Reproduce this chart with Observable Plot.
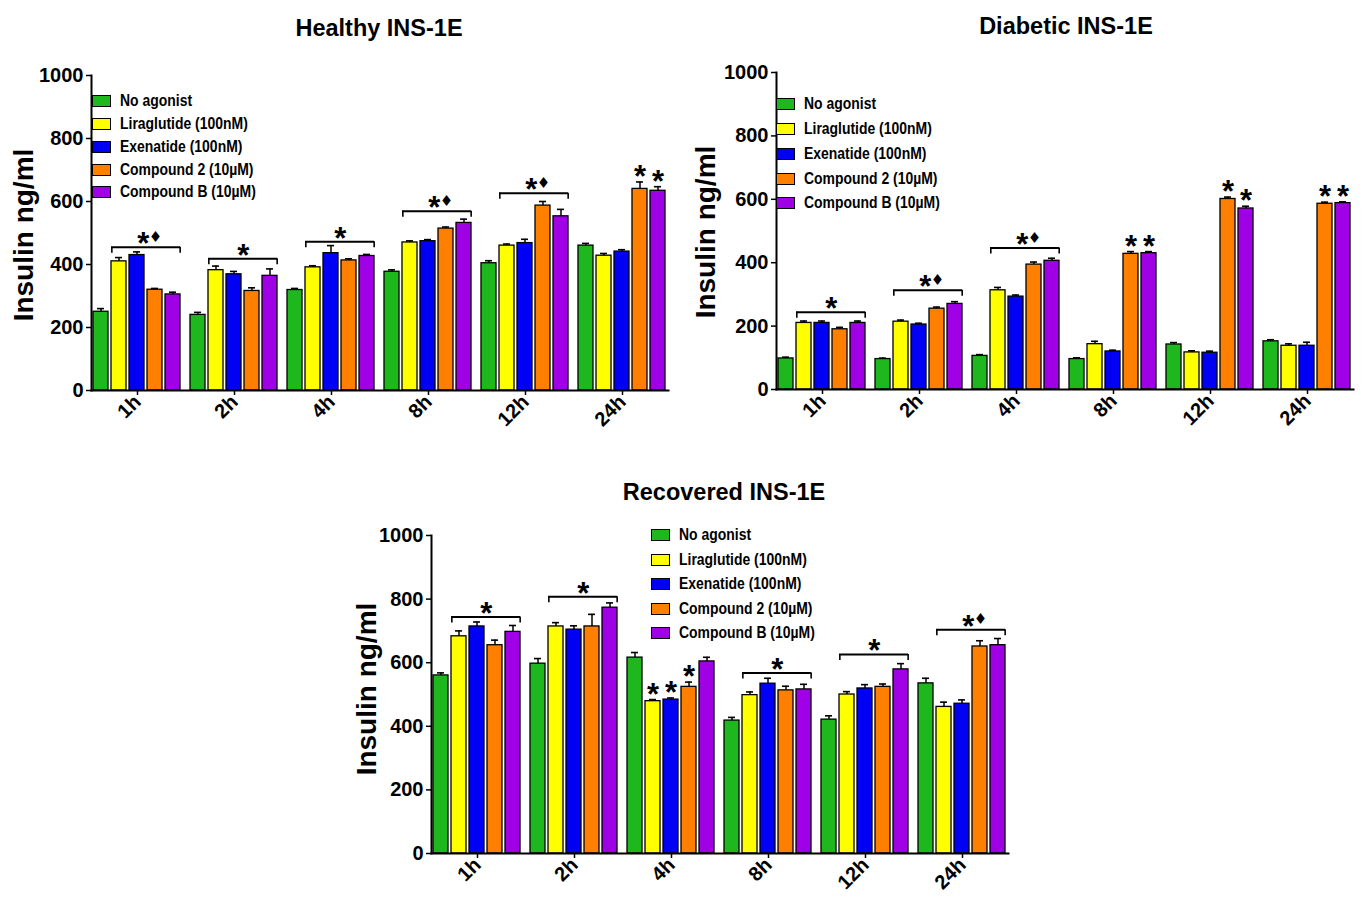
<!DOCTYPE html>
<html><head><meta charset="utf-8">
<script src="https://cdn.jsdelivr.net/npm/d3@7"></script>
<script src="https://cdn.jsdelivr.net/npm/@observablehq/plot@0.6"></script>
<style>
body{margin:0;background:#fff;}
#root{position:relative;width:1372px;height:907px;overflow:hidden;background:#fff;font-family:"Liberation Sans",Arial,sans-serif;color:#000;}
.panel{position:absolute;}
.title{position:absolute;font-weight:bold;font-size:23.5px;line-height:26px;transform:translateX(-50%);white-space:nowrap;}
.ylab{position:absolute;font-weight:bold;font-size:28px;line-height:30px;white-space:nowrap;transform:translate(-50%,-50%) rotate(-90deg);}
.legend{position:absolute;font-size:17px;font-weight:bold;}
.legend .row{display:flex;align-items:center;white-space:nowrap;}
.legend .sw{width:17px;height:10px;border:1.5px solid #000;margin-right:9px;box-sizing:content-box;flex:none;}
.legend .tx{display:inline-block;transform:scaleX(0.82);transform-origin:left center;}
</style>
</head><body><div id="root"></div>
<script>
// ---------- data ----------
const times = ["1h", "2h", "4h", "8h", "12h", "24h"];
const treatments = ["No agonist", "Liraglutide (100nM)", "Exenatide (100nM)", "Compound 2 (10µM)", "Compound B (10µM)"];
const colors = ["#1eb81e", "#ffff00", "#0000f5", "#ff8000", "#a000e6"];
const yTicks = [0, 200, 400, 600, 800, 1000];

// rows: time; columns: treatments
const healthyMeans = [[250, 410, 430, 320, 305], [240, 382, 369, 316, 364], [319, 391, 436, 413, 427], [377, 470, 474, 514, 532], [404, 460, 468, 587, 553], [460, 428, 441, 640, 634]];
const healthyErrs  = [[10, 12, 10, 4, 7], [8, 13, 9, 10, 22], [5, 5, 24, 5, 5], [6, 5, 5, 5, 12], [8, 5, 12, 13, 22], [7, 7, 6, 22, 13]];
const healthyBrackets = [{time: "1h", y: 455, diamond: true}, {time: "2h", y: 418, diamond: false}, {time: "4h", y: 472, diamond: false}, {time: "8h", y: 569, diamond: true}, {time: "12h", y: 626, diamond: true}];
const healthyStars = [{time: "24h", treatment: "Compound 2 (10µM)"}, {time: "24h", treatment: "Compound B (10µM)"}];

const diabeticMeans = [[98, 210, 210, 190, 210], [96, 214, 205, 255, 270], [106, 313, 293, 394, 406], [96, 143, 120, 428, 430], [142, 117, 116, 601, 571], [152, 138, 138, 586, 588]];
const diabeticErrs  = [[4, 6, 6, 6, 6], [3, 5, 4, 5, 7], [4, 9, 5, 8, 8], [4, 9, 4, 7, 5], [6, 5, 5, 6, 7], [5, 6, 11, 5, 4]];
const diabeticBrackets = [{time: "1h", y: 244, diamond: false}, {time: "2h", y: 313, diamond: true}, {time: "4h", y: 446, diamond: true}];
const diabeticStars = [{time: "8h", treatment: "Compound 2 (10µM)"}, {time: "8h", treatment: "Compound B (10µM)"}, {time: "12h", treatment: "Compound 2 (10µM)"}, {time: "12h", treatment: "Compound B (10µM)"}, {time: "24h", treatment: "Compound 2 (10µM)"}, {time: "24h", treatment: "Compound B (10µM)"}];

const recoveredMeans = [[560, 683, 714, 655, 697], [597, 714, 704, 714, 773], [616, 479, 484, 524, 604], [418, 498, 534, 513, 516], [421, 500, 519, 524, 579], [535, 461, 471, 651, 655]];
const recoveredErrs  = [[8, 17, 14, 16, 20], [16, 12, 12, 38, 15], [16, 5, 5, 15, 13], [10, 10, 17, 13, 16], [12, 9, 12, 9, 18], [16, 15, 12, 18, 21]];
const recoveredBrackets = [{time: "1h", y: 744, diamond: false}, {time: "2h", y: 807, diamond: false}, {time: "8h", y: 568, diamond: false}, {time: "12h", y: 626, diamond: false}, {time: "24h", y: 704, diamond: true}];
const recoveredStars = [{time: "4h", treatment: "Liraglutide (100nM)"}, {time: "4h", treatment: "Exenatide (100nM)"}, {time: "4h", treatment: "Compound 2 (10µM)"}];

const FXPI = 0.05, FXPO = 0.02, XPI = 0.15, XPO = 0.05;

const root = document.getElementById("root");

function addDiv(cls, css, text) {
  const d = document.createElement("div");
  d.className = cls;
  Object.assign(d.style, css);
  if (text != null) d.textContent = text;
  root.appendChild(d);
  return d;
}

function drawPanel(cfg) {
  const {means, errs, brackets, stars, left, top, width, height, ml, mr, mt, mb} = cfg;
  const rows = [];
  times.forEach((t, i) => treatments.forEach((tr, j) => rows.push({time: t, treatment: tr, mean: means[i][j], err: errs[i][j]})));
  const capOf = (t, tr) => { const r = rows.find(d => d.time === t && d.treatment === tr); return r.mean + r.err; };
  const starRows = stars.map(s => ({...s, y: capOf(s.time, s.treatment)}));

  const W = width - ml - mr;
  const fxStep = W / (times.length - FXPI + 2 * FXPO);
  const fxBw = fxStep * (1 - FXPI);
  const xStep = fxBw / (treatments.length - XPI + 2 * XPO);
  const xBw = xStep * (1 - XPI);

  const withD = brackets.filter(d => d.diamond);
  const noD = brackets.filter(d => !d.diamond);

  const plot = Plot.plot({
    width, height, marginLeft: ml, marginRight: mr, marginTop: mt, marginBottom: mb,
    style: {background: "transparent", fontFamily: "Liberation Sans, Arial, sans-serif", color: "#000", overflow: "visible"},
    fx: {domain: times, paddingInner: FXPI, paddingOuter: FXPO, label: null},
    x: {domain: treatments, paddingInner: XPI, paddingOuter: XPO, axis: null},
    y: {domain: [0, 1000], label: null},
    color: {domain: treatments, range: colors},
    marks: [
      Plot.barY(rows, {fx: "time", x: "treatment", y: "mean", fill: "treatment", stroke: "#000", strokeWidth: 1.3}),
      Plot.ruleX(rows, {fx: "time", x: "treatment", y1: "mean", y2: d => d.mean + d.err, stroke: "#000", strokeWidth: 1.5}),
      Plot.tickY(rows, {fx: "time", x: "treatment", y: d => d.mean + d.err, insetLeft: xBw * 0.25, insetRight: xBw * 0.25, stroke: "#000", strokeWidth: 1.6}),
      // brackets
      Plot.ruleY(brackets, {fx: "time", x1: () => treatments[1], x2: () => treatments[4], y: "y", stroke: "#000", strokeWidth: 2}),
      Plot.ruleX(brackets, {fx: "time", x: () => treatments[1], y1: "y", y2: "y", insetBottom: -6, dx: -xBw / 2 + 0.8, stroke: "#000", strokeWidth: 1.6}),
      Plot.ruleX(brackets, {fx: "time", x: () => treatments[4], y1: "y", y2: "y", insetBottom: -6, dx: xBw / 2 - 0.8, stroke: "#000", strokeWidth: 1.6}),
      Plot.text(noD, {fx: "time", x: () => treatments[2], y: "y", text: () => "*", dx: xStep / 2, dy: -3, fontSize: 31, fontWeight: "bold", lineAnchor: "middle"}),
      Plot.text(withD, {fx: "time", x: () => treatments[2], y: "y", text: () => "*", dx: xStep / 2 - 3, dy: -3, fontSize: 31, fontWeight: "bold", lineAnchor: "middle"}),
      Plot.text(withD, {fx: "time", x: () => treatments[2], y: "y", text: () => "\u2666", dx: xStep / 2 + 9, dy: -10, fontSize: 15, lineAnchor: "middle", fontFamily: "DejaVu Sans"}),
      Plot.text(starRows, {fx: "time", x: "treatment", y: "y", text: () => "*", fontSize: 31, fontWeight: "bold", lineAnchor: "middle", dy: -5}),
      Plot.axisY({ticks: yTicks, tickFormat: d => String(d), tickSize: 5, tickPadding: 3, fontSize: 20, fontWeight: "bold", strokeWidth: 1.5, label: null}),
      Plot.axisFx({anchor: "bottom", tickSize: 5, tickPadding: 3, tickRotate: -45, fontSize: 20, fontWeight: "bold", strokeWidth: 1.5, label: null}),
      Plot.frame({anchor: "bottom", facet: "super", stroke: "#000", strokeWidth: 2}),
      Plot.frame({anchor: "left", facet: "super", stroke: "#000", strokeWidth: 2})
    ]
  });
  const div = addDiv("panel", {left: left + "px", top: top + "px"});
  div.appendChild(plot);
}

const panels = [
  {name: "Healthy INS-1E", means: healthyMeans, errs: healthyErrs, brackets: healthyBrackets, stars: healthyStars,
   left: 0, top: 50, width: 680, height: 390, ml: 88, mr: 8, mt: 25, mb: 50,
   title: [379, 15], ylab: [24, 235], legend: [92, 90, 22.75]},
  {name: "Diabetic INS-1E", means: diabeticMeans, errs: diabeticErrs, brackets: diabeticBrackets, stars: diabeticStars,
   left: 680, top: 47, width: 692, height: 390, ml: 91, mr: 14, mt: 25, mb: 48,
   title: [1066, 13], ylab: [706, 232], legend: [776, 92, 24.75]},
  {name: "Recovered INS-1E", means: recoveredMeans, errs: recoveredErrs, brackets: recoveredBrackets, stars: recoveredStars,
   left: 340, top: 510, width: 680, height: 390, ml: 88, mr: 8, mt: 25, mb: 47,
   title: [724, 479], ylab: [367, 689], legend: [651, 523, 24.5]}
];

for (const p of panels) {
  drawPanel(p);
  addDiv("title", {left: p.title[0] + "px", top: p.title[1] + "px"}, p.name);
  addDiv("ylab", {left: p.ylab[0] + "px", top: p.ylab[1] + "px"}, "Insulin ng/ml");
  const lg = addDiv("legend", {left: p.legend[0] + "px", top: p.legend[1] + "px"});
  treatments.forEach((t, i) => {
    const r = document.createElement("div");
    r.className = "row";
    r.style.height = p.legend[2] + "px";
    const sw = document.createElement("div");
    sw.className = "sw";
    sw.style.background = colors[i];
    const tx = document.createElement("span");
    tx.className = "tx";
    tx.textContent = t;
    r.appendChild(sw); r.appendChild(tx);
    lg.appendChild(r);
  });
}
</script>
</body></html>
